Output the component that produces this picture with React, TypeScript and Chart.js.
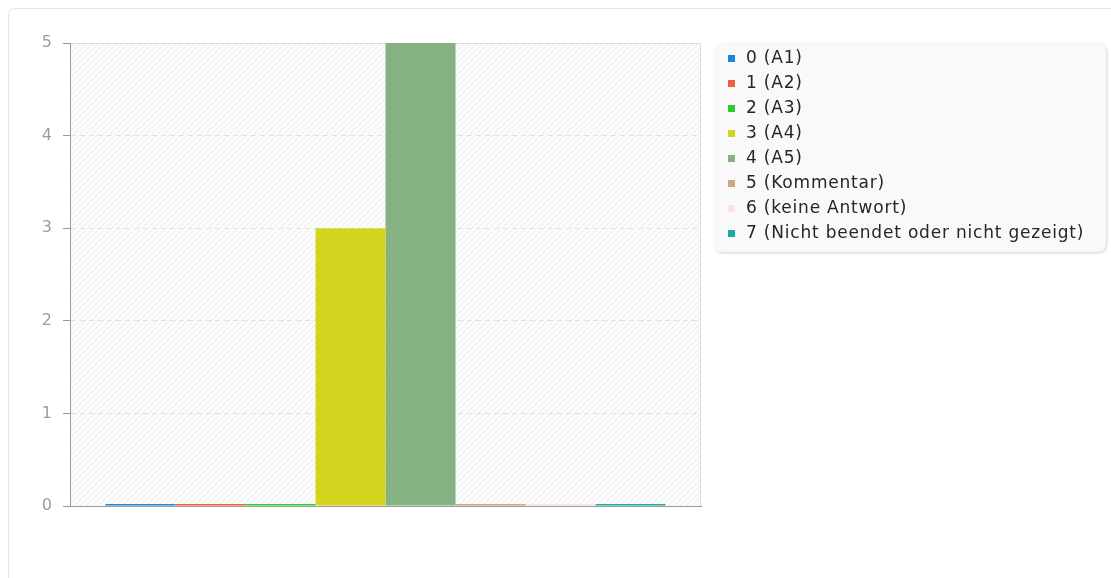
import React, { useEffect, useRef } from "react";
import { Chart, registerables } from "chart.js";

Chart.register(...registerables);

const categories: string[] = [""];
const seriesLabels: string[] = [
  "0 (A1)",
  "1 (A2)",
  "2 (A3)",
  "3 (A4)",
  "4 (A5)",
  "5 (Kommentar)",
  "6 (keine Antwort)",
  "7 (Nicht beendet oder nicht gezeigt)",
];
const seriesValues: number[] = [0, 0, 0, 3, 5, 0, 0, 0];
const seriesColors: string[] = [
  "#1d85d6",
  "#ea6239",
  "#2bcb2b",
  "#d3d41d",
  "#86b282",
  "#c9a984",
  "#fce4db",
  "#1ea9a2",
];
const yTicks: number[] = [0, 1, 2, 3, 4, 5];

const FONT = "'DejaVu Sans', Verdana, sans-serif";

function makeHatch(): CanvasPattern | string {
  const c = document.createElement("canvas");
  c.width = 6;
  c.height = 6;
  const g = c.getContext("2d");
  if (!g) return "#fafafa";
  g.fillStyle = "#fcfcfc";
  g.fillRect(0, 0, 6, 6);
  g.strokeStyle = "#ebebeb";
  g.lineWidth = 1;
  g.beginPath();
  g.moveTo(-1, 7);
  g.lineTo(7, -1);
  g.moveTo(-4, 4);
  g.lineTo(4, -4);
  g.moveTo(2, 10);
  g.lineTo(10, 2);
  g.stroke();
  const p = g.createPattern(c, "repeat");
  return p || "#fafafa";
}

const backgroundPlugin = {
  id: "hatchBackground",
  beforeDraw(chart: any) {
    const { ctx, chartArea } = chart;
    if (!chartArea) return;
    const { left, top, right, bottom } = chartArea;
    ctx.save();
    ctx.fillStyle = makeHatch();
    ctx.fillRect(left, top, right - left, bottom - top);
    ctx.strokeStyle = "#dcdcdc";
    ctx.lineWidth = 1;
    ctx.beginPath();
    ctx.moveTo(left, top + 0.5);
    ctx.lineTo(right - 0.5, top + 0.5);
    ctx.lineTo(right - 0.5, bottom);
    ctx.stroke();
    ctx.restore();
  },
};

export default function App() {
  const canvasRef = useRef<HTMLCanvasElement | null>(null);

  useEffect(() => {
    if (!canvasRef.current) return;
    const chart = new Chart(canvasRef.current, {
      type: "bar",
      data: {
        labels: categories,
        datasets: seriesLabels.map((label, i) => ({
          label,
          data: [seriesValues[i]],
          backgroundColor: seriesColors[i],
          borderWidth: 0,
          minBarLength: 2,
        })),
      },
      options: {
        animation: false,
        responsive: false,
        maintainAspectRatio: false,
        datasets: {
          bar: {
            categoryPercentage: 0.8875,
            barPercentage: 1,
          },
        },
        layout: {
          padding: { left: 0, top: 35, right: 27, bottom: 62 },
        },
        plugins: {
          legend: { display: false },
          tooltip: { enabled: false },
          title: { display: false },
        },
        scales: {
          x: {
            display: true,
            ticks: { display: false },
            grid: { display: false, drawTicks: false },
            border: { display: true, color: "#9a9a9a", width: 1 },
            afterFit: (s: any) => {
              s.height = 0;
            },
          },
          y: {
            min: 0,
            max: 5,
            afterBuildTicks: (s: any) => {
              s.ticks = yTicks.map((v) => ({ value: v }));
            },
            ticks: {
              stepSize: 1,
              padding: 11,
              color: "#9c9c9c",
              font: { family: FONT, size: 16 },
            },
            grid: {
              display: true,
              drawTicks: true,
              tickLength: 7,
              tickColor: "#9a9a9a",
              tickBorderDash: [],
              color: (ctx: any) =>
                ctx.tick && (ctx.tick.value === 0 || ctx.tick.value === 5)
                  ? "rgba(0,0,0,0)"
                  : "#e2e2e2",
            },
            border: { display: true, color: "#9a9a9a", width: 1, dash: [5, 4] },
            afterFit: (s: any) => {
              s.width = 62;
            },
          },
        },
      },
      plugins: [backgroundPlugin],
    });
    return () => chart.destroy();
  }, []);

  return (
    <div
      style={{
        position: "fixed",
        left: 8,
        top: 8,
        right: 0,
        bottom: 0,
        overflow: "hidden",
        fontFamily: FONT,
      }}
    >
      <div
        style={{
          position: "absolute",
          left: 0,
          top: 0,
          width: 1200,
          height: 800,
          border: "1px solid #e6e6e6",
          borderRadius: 7,
          boxShadow: "0 0 3px rgba(0,0,0,0.06)",
          boxSizing: "border-box",
          background: "#fff",
        }}
      />
      <canvas
        ref={canvasRef}
        width={720}
        height={560}
        style={{ position: "absolute", left: 0, top: 0, width: 720, height: 560 }}
      />
      <div
        style={{
          position: "absolute",
          left: 706,
          top: 35,
          width: 392,
          height: 209,
          boxSizing: "border-box",
          background: "#f9f9f9",
          borderRadius: 8,
          boxShadow: "1px 1px 3px rgba(0,0,0,0.18)",
          paddingTop: 2,
        }}
      >
        {seriesLabels.map((label, i) => (
          <div
            key={label}
            style={{
              position: "relative",
              height: 25,
              lineHeight: "25px",
              fontSize: 17,
              color: "#262626",
              letterSpacing: "0.8px",
              whiteSpace: "nowrap",
            }}
          >
            <span
              style={{
                position: "absolute",
                left: 14,
                top: 10,
                width: 7,
                height: 7,
                background: seriesColors[i],
              }}
            />
            <span style={{ position: "absolute", left: 32, top: 0 }}>{label}</span>
          </div>
        ))}
      </div>
    </div>
  );
}
